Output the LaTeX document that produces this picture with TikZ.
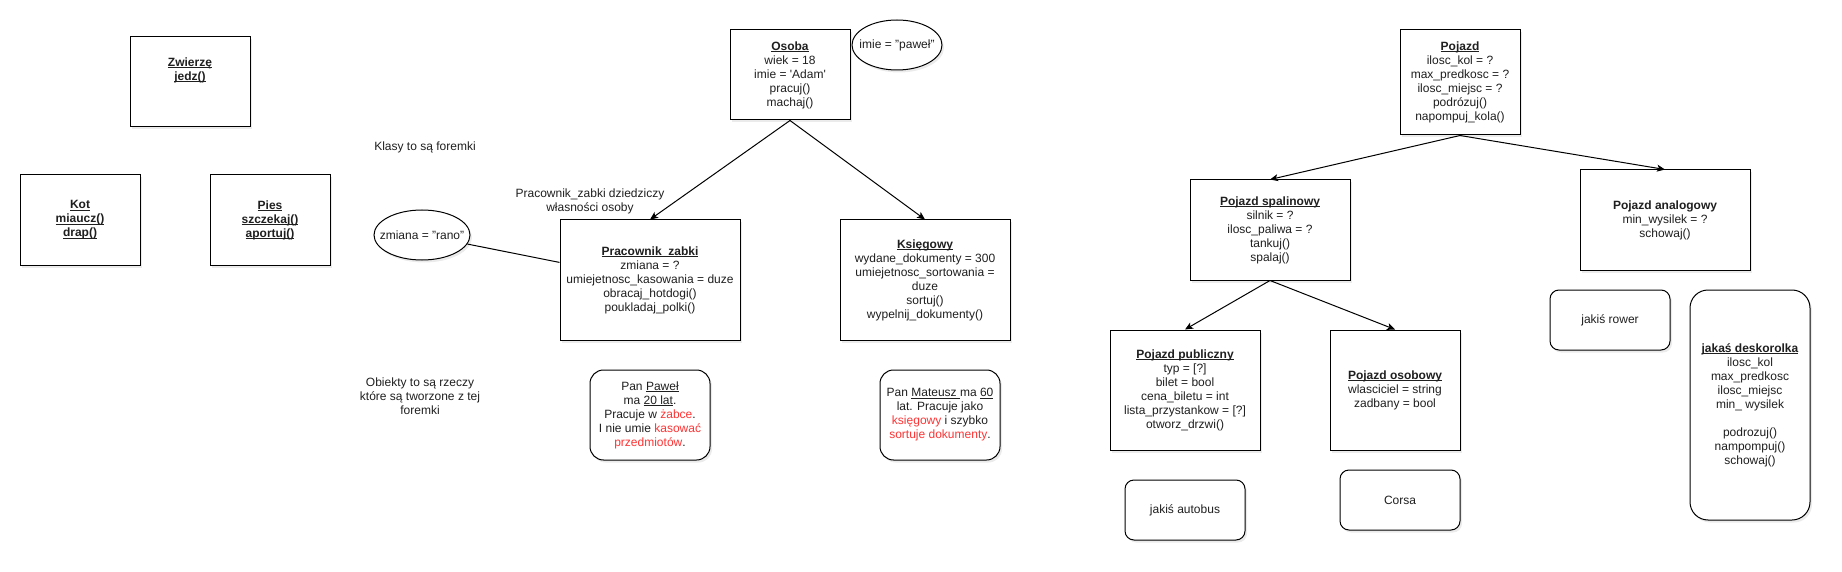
\documentclass[tikz,border=0pt]{standalone}
\usepackage{fontspec}
\setmainfont{Liberation Sans}
\usetikzlibrary{shapes.geometric,arrows.meta,shadows}
\definecolor{redtxt}{HTML}{FF3333}
\newcommand{\rd}[1]{\textcolor{redtxt}{#1}}
\newcommand{\ul}[1]{\setbox0\hbox{#1}\rlap{\rule[-1.6pt]{\wd0}{0.8pt}}\box0}
\tikzset{
  txt/.style={font=\fontsize{12}{14}\selectfont, align=center, inner sep=0pt, text=black!88},
  shad/.style={drop shadow={opacity=0.16, shadow xshift=2pt, shadow yshift=-2.5pt}},
  box/.style={txt, draw, fill=white, line width=1pt, shad},
  rbox/.style={box, rounded corners=#1},
  oval/.style={txt, ellipse, draw, fill=white, line width=1pt, shad},
  arr/.style={line width=1pt, -{Stealth[length=8pt,width=7pt,inset=2pt]}},
  link/.style={line width=1pt},
}
\begin{document}
\begin{tikzpicture}[x=1pt,y=-1pt]
\useasboundingbox (0,0) rectangle (1842,572);

% Zwierze group
\node[box, minimum width=120, minimum height=90] (zw) at (190,82) {};
\node[txt, font=\fontsize{12}{14}\selectfont\bfseries] (zwT) at (190,70.5) {\ul{Zwierzę}\\\ul{jedz()}};
\node[box, minimum width=120, minimum height=90, font=\fontsize{12}{14}\selectfont\bfseries] (kot) at (80,220) {\ul{Kot}\\\ul{miaucz()}\\\ul{drap()}};
\node[box, minimum width=120, minimum height=90, font=\fontsize{12}{14}\selectfont\bfseries] (pies) at (270,220) {\ul{Pies}\\\ul{szczekaj()}\\\ul{aportuj()}};

% notes
\node[txt] (klasy) at (425,147) {Klasy to są foremki};
\node[txt] (obiekty) at (420,396) {Obiekty to są rzeczy\\które są tworzone z tej\\foremki};
\node[txt] (dz) at (590,201) {Pracownik\_zabki dziedziczy\\własności osoby};

% Osoba group
\node[box, minimum width=120, minimum height=90] (osoba) at (790,75)
  {\ul{\textbf{Osoba}}\\wiek = 18\\imie = \textquotesingle Adam\textquotesingle\\pracuj()\\machaj()};
\node[oval, minimum width=90, minimum height=50] (imie) at (897,45) {};
\node[txt] (imieT) at (897,45) {imie = "paweł"};
\node[box, minimum width=180, minimum height=120] (prac) at (650,280)
  {\ul{\textbf{Pracownik\_zabki}}\\zmiana = ?\\umiejetnosc\_kasowania = duze\\obracaj\_hotdogi()\\poukladaj\_polki()};
\node[box, minimum width=170, minimum height=120] (ks) at (925,280)
  {\ul{\textbf{Księgowy}}\\wydane\_dokumenty = 300\\umiejetnosc\_sortowania =\\duze\\sortuj()\\wypelnij\_dokumenty()};
\node[oval, minimum width=96, minimum height=50] (zm) at (422,235) {};
\node[txt] (zmT) at (422,235) {zmiana = "rano"};

\node[rbox=13.5pt, minimum width=120, minimum height=90] (pawel) at (650,415)
  {Pan \ul{Paweł}\\ma \ul{20 lat}.\\Pracuje w \rd{żabce}.\\I nie umie \rd{kasować}\\\rd{przedmiotów}.};
\node[rbox=13.5pt, minimum width=120, minimum height=90] (mat) at (940,415)
  {Pan \ul{Mateusz }ma \ul{60}\\lat. Pracuje jako\\\rd{księgowy} i szybko\\\rd{sortuje dokumenty}.};

\draw[arr] (osoba.south) -- (prac.north);
\draw[arr] (osoba.south) -- (ks.north);
\draw[link] (zm) -- (prac.169);

% Pojazd group
\node[box, minimum width=120, minimum height=105] (poj) at (1460,82.5)
  {\ul{\textbf{Pojazd}}\\ilosc\_kol = ?\\max\_predkosc = ?\\ilosc\_miejsc = ?\\podrózuj()\\napompuj\_kola()};
\node[box, minimum width=160, minimum height=100] (spal) at (1270,230)
  {\ul{\textbf{Pojazd spalinowy}}\\silnik = ?\\ilosc\_paliwa = ?\\tankuj()\\spalaj()};
\node[box, minimum width=170, minimum height=100] (anal) at (1665,220)
  {\textbf{Pojazd analogowy}\\min\_wysilek = ?\\schowaj()};
\node[box, minimum width=150, minimum height=120] (publ) at (1185,390)
  {\ul{\textbf{Pojazd publiczny}}\\typ = [?]\\bilet = bool\\cena\_biletu = int\\lista\_przystankow = [?]\\otworz\_drzwi()};
\node[box, minimum width=130, minimum height=120] (osob) at (1395,390)
  {\ul{\textbf{Pojazd osobowy}}\\wlasciciel = string\\zadbany = bool};
\node[rbox=9pt, minimum width=120, minimum height=60] (auto) at (1185,510) {jakiś autobus};
\node[rbox=9pt, minimum width=120, minimum height=60] (corsa) at (1400,500) {Corsa};
\node[rbox=9pt, minimum width=120, minimum height=60] (rower) at (1610,320) {jakiś rower};
\node[rbox=18pt, minimum width=120, minimum height=230] (desk) at (1750,405)
  {\ul{\textbf{jakaś deskorolka}}\\ilosc\_kol\\max\_predkosc\\ilosc\_miejsc\\min\_ wysilek\\[14pt]podrozuj()\\nampompuj()\\schowaj()};

\draw[arr] (poj.south) -- (spal.north);
\draw[arr] (poj.south) -- (anal.north);
\draw[arr] (spal.south) -- (publ.north);
\draw[arr] (spal.south) -- (osob.north);
\end{tikzpicture}
\end{document}
